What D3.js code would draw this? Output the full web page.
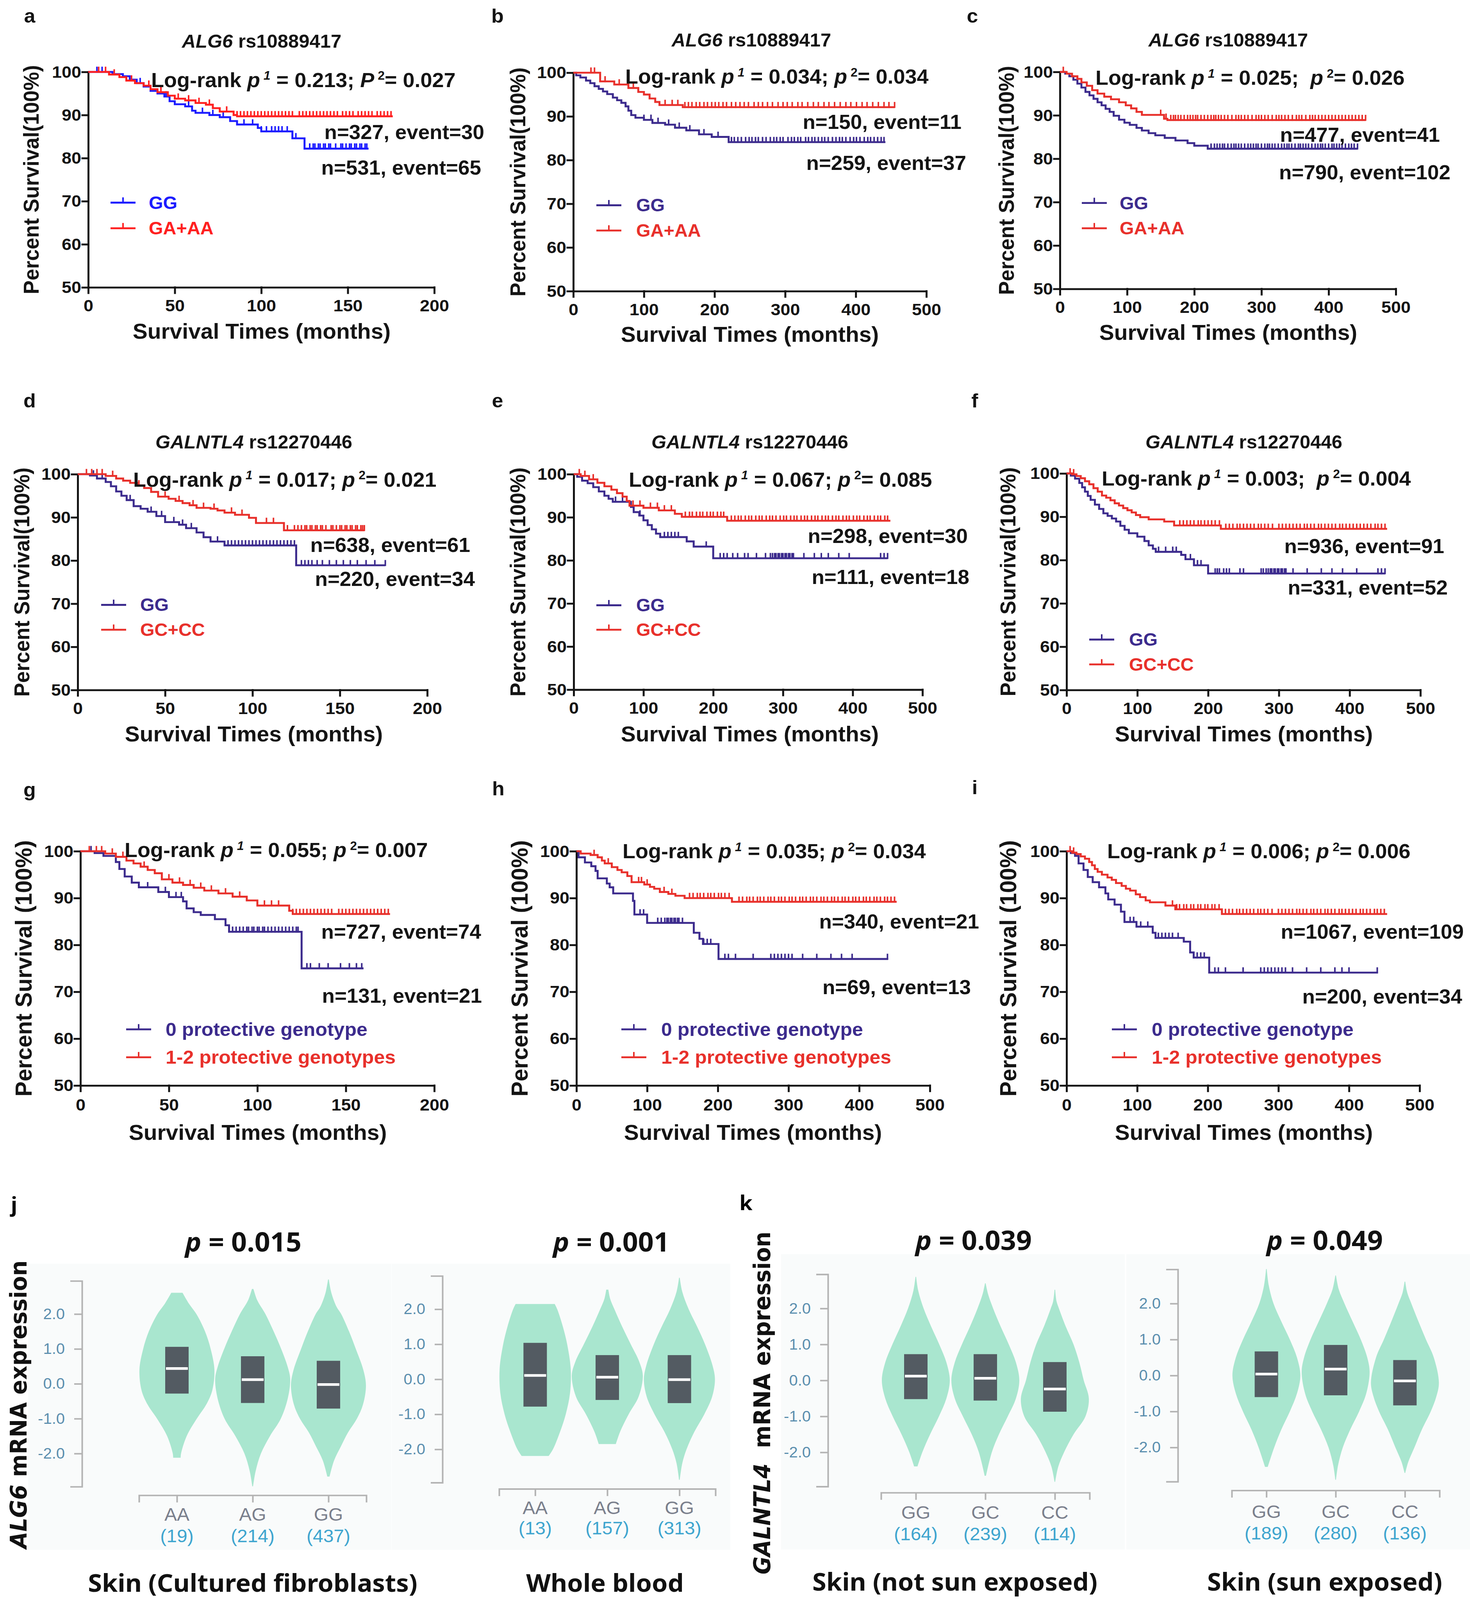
<!DOCTYPE html>
<html>
<head>
<meta charset="utf-8">
<script src="https://cdn.jsdelivr.net/npm/d3@7"></script>
<style>
  html, body { margin: 0; padding: 0; background: #fff; overflow: hidden; }
  svg { display: block; }
</style>
</head>
<body>
<svg id="fig"></svg>
<script>
// ---------------------------------------------------------------- data
const xTicks200 = [0, 50, 100, 150, 200];
const xTicks500 = [0, 100, 200, 300, 400, 500];
const yTicksKM = [50, 60, 70, 80, 90, 100];
const xMax = [200, 500, 500, 200, 500, 500, 200, 500, 500];

const geneNames = ["ALG6", "ALG6", "ALG6", "GALNTL4", "GALNTL4", "GALNTL4", "", "", ""];
const snpIds = ["rs10889417", "rs10889417", "rs10889417", "rs12270446", "rs12270446", "rs12270446", "", "", ""];
const p1Values = ["0.213", "0.034", "0.025", "0.017", "0.067", "0.003", "0.055", "0.035", "0.006"];
const p1Seps = ["; ", "; ", ";  ", "; ", "; ", ";  ", "; ", "; ", "; "];
const p2Letters = ["P", "p", "p", "p", "p", "p", "p", "p", "p"];
const p2Values = ["0.027", "0.034", "0.026", "0.021", "0.085", "0.004", "0.007", "0.034", "0.006"];
const n1Labels = ["n=327, event=30", "n=150, event=11", "n=477, event=41", "n=638, event=61", "n=298, event=30",
                  "n=936, event=91", "n=727, event=74", "n=340, event=21", "n=1067, event=109"];
const n2Labels = ["n=531, event=65", "n=259, event=37", "n=790, event=102", "n=220, event=34", "n=111, event=18",
                  "n=331, event=52", "n=131, event=21", "n=69, event=13", "n=200, event=34"];
const legend0 = ["GG", "GG", "GG", "GG", "GG", "GG", "0 protective genotype", "0 protective genotype", "0 protective genotype"];
const legend1 = ["GA+AA", "GA+AA", "GA+AA", "GC+CC", "GC+CC", "GC+CC",
                 "1-2 protective genotypes", "1-2 protective genotypes", "1-2 protective genotypes"];

// survival steps [month, percent] and censor times; "0" = GG / 0 protective, "1" = other group
const a0 = [[0,100],[14,99.5],[20,99],[24,98.2],[28,97.4],[32,96.6],[36,95.6],[40,95],[44,94.3],[47,93.2],[50,92.5],[56,92],[60,91],[62,90.5],[70,90],[76,89.5],[82,88.6],[86,87.8],[98,87],[100,86.2],[118,84.6],[125,82.2],[162,82.2]];
const a0c = [5,8,30,45,58,66,72,78,90,95,100,103,106,108,110,112,115,118,120,128,130,131,133,134,136,137,139,140,143,146,147,149,151,152,154,155,157,158,160,161];
const a1 = [[0,100],[12,99.4],[18,98.8],[22,98],[27,97.4],[32,96.8],[36,96],[40,95.3],[46,94.5],[50,93.8],[56,93.4],[62,92.8],[68,92.4],[72,91.6],[76,90.8],[84,90],[86,89.7],[176,89.7]];
const a1c = [6,10,15,25,35,42,52,58,64,70,80,86,88,90,92,94,96,98,100,102,104,106,108,110,112,114,116,118,122,124,126,128,130,132,134,136,138,140,142,144,147,149,151,153,156,158,160,162,164,167,169,171,173,175];

const b0 = [[0,100],[4,99.4],[10,98.9],[18,98.2],[24,97.6],[30,96.9],[36,96.3],[42,95.7],[48,95.1],[56,94.3],[62,93.7],[68,93.1],[74,92.3],[78,91.3],[82,90.3],[88,89.7],[100,89.2],[112,88.5],[130,88.1],[144,87.4],[160,86.8],[178,85.9],[196,85.3],[220,84.1],[442,84.1]];
const b0c = [100,110,120,135,150,165,185,205,224,228,233,238,244,249,253,258,262,268,273,279,284,288,293,297,304,309,313,318,322,329,333,338,342,347,352,356,361,367,372,377,381,386,392,397,401,406,412,417,421,426,431,436,440];
const b1 = [[0,100],[38,98],[58,97.3],[78,96.5],[92,95.6],[100,95],[108,94.1],[116,93.3],[122,92.6],[155,92.1],[455,92.1]];
const b1c = [25,30,45,65,85,130,140,148,158,163,168,174,179,185,190,196,201,206,212,217,224,230,236,242,248,256,262,268,275,282,290,297,303,310,318,324,332,340,347,355,362,370,378,386,393,401,409,416,424,432,440,447,455];

const c0 = [[0,100],[8,99.6],[14,99],[20,98.2],[26,97.3],[32,96.4],[38,95.4],[44,94.6],[50,93.8],[56,93],[62,92.3],[68,91.5],[74,90.8],[80,89.9],[88,89],[96,88.3],[104,87.8],[114,87.1],[122,86.5],[132,85.9],[142,85.4],[156,84.8],[172,84.2],[190,83.6],[200,83],[220,82.3],[443,82.3]];
const c0c = [225,230,234,238,242,245,250,255,259,262,266,270,275,280,284,288,292,295,300,305,309,312,316,320,325,330,334,338,341,345,350,355,358,362,366,370,375,380,384,388,391,395,400,405,408,412,416,420,425,430,434,438,443];
const c1 = [[0,100],[10,99.6],[18,99],[26,98.4],[32,97.6],[40,96.8],[48,95.8],[56,95],[66,94.3],[76,93.7],[88,93],[98,92.3],[106,91.6],[114,90.8],[122,90.1],[155,89.2],[160,88.9],[455,88.9]];
const c1c = [5,150,158,165,169,172,176,180,185,190,194,198,202,205,210,215,220,225,229,232,236,240,245,250,256,262,266,270,275,280,286,292,296,300,305,310,316,322,326,330,335,340,346,352,356,360,366,372,376,380,385,390,395,400,405,410,415,420,425,430,435,440,445,450,455];

const d0 = [[0,100],[7,99.7],[11,99],[16,98.2],[19,97.2],[22,96],[25,95],[28,94],[32,92.6],[36,92],[40,91.3],[45,90.3],[50,88.9],[58,88.3],[62,87.5],[68,86.5],[72,85.4],[76,84.4],[84,83.5],[125,78.9],[176,78.9]];
const d0c = [9,14,30,42,48,55,60,65,80,86,88,90,92,94,96,98,100,102,104,106,108,110,112,114,116,118,120,122,124,128,130,132,134,137,140,144,148,152,156,160,165,170,176];
const d1 = [[0,100],[16,99.6],[22,99],[26,98.5],[30,98],[34,97.4],[38,96.8],[42,95.9],[46,94.8],[52,94.3],[56,93.8],[60,93.3],[64,92.8],[68,92.2],[76,92],[80,91.6],[84,91.1],[90,90.6],[98,89.9],[102,88.7],[118,87],[164,87]];
const d1c = [5,8,11,14,20,35,50,58,66,72,78,88,94,108,112,120,124,126,128,130,131,133,134,136,137,139,140,142,145,146,148,150,151,153,154,156,157,159,160,162,163,164];

const e0 = [[0,100],[5,99.4],[12,98.5],[20,97.9],[28,97],[36,96],[44,95],[50,94.3],[56,93.6],[82,92.4],[86,91.2],[94,90.4],[100,89.3],[106,88.2],[112,87.2],[118,86.2],[124,85.4],[162,84.4],[172,83.2],[200,80.5],[450,80.5]];
const e0c = [60,70,95,130,135,140,145,150,190,210,215,220,228,235,245,250,262,275,282,285,288,290,293,295,298,300,303,305,308,310,313,315,330,345,355,365,380,395,440,445,450];
const e1 = [[0,100],[10,99.6],[22,98.8],[34,98],[44,97.2],[54,96.4],[62,95.6],[70,94.8],[76,93.8],[80,92.7],[100,92.2],[122,91.6],[145,90.8],[155,90.1],[220,89.2],[454,89.2]];
const e1c = [8,16,28,85,95,110,120,130,140,160,166,170,176,181,185,191,196,200,206,211,215,226,231,236,240,246,251,255,261,266,270,276,281,285,290,296,301,305,311,316,320,326,331,335,341,346,350,356,361,365,371,376,380,386,391,395,401,406,410,416,421,425,431,436,440,446,450];

const f0 = [[0,100],[6,99.5],[12,98.8],[18,97.8],[22,96.8],[26,95.8],[30,94.8],[34,93.9],[40,92.8],[46,91.8],[52,90.8],[58,90.2],[64,89.6],[70,88.9],[76,87.9],[82,87],[88,86.2],[100,85.4],[110,84.4],[116,83.4],[122,82.6],[126,81.9],[162,81.2],[168,80.2],[180,78.8],[200,76.9],[450,76.9]];
const f0c = [130,140,150,155,175,185,190,210,213,216,222,226,230,245,250,275,278,282,285,288,290,293,295,298,300,303,305,308,310,320,340,360,375,390,410,440,445,450];
const f1 = [[0,100],[8,99.8],[14,99.4],[20,98.9],[26,98.2],[32,97.5],[38,96.6],[44,95.8],[50,94.9],[56,94.4],[62,93.8],[68,93.1],[74,92.6],[80,92],[86,91.5],[92,91],[98,90.4],[104,89.9],[116,89.4],[138,88.9],[152,88],[218,87.2],[453,87.2]];
const f1c = [5,10,160,165,170,175,180,186,190,195,200,205,210,216,225,230,235,241,245,250,255,260,265,271,275,280,285,291,300,305,310,315,320,325,330,336,340,345,350,356,360,365,370,375,380,386,390,395,400,405,410,415,420,425,430,436,440,445,450];

const g0 = [[0,100],[8,99.6],[13,99],[20,97.7],[22,96.2],[25,94.6],[29,93.3],[33,92.3],[44,91.3],[50,90.2],[58,89.3],[60,87.8],[64,87],[68,86.4],[76,85.5],[82,84.2],[84,82.8],[125,75],[160,75]];
const g0c = [6,38,48,54,57,86,88,90,92,94,95,97,98,100,101,103,104,106,108,110,112,114,116,118,120,122,123,128,130,135,140,147,152,156,159];
const g1 = [[0,100],[14,99.5],[20,98.8],[26,98],[30,97.4],[34,96.7],[38,96],[42,95.3],[46,94],[52,93.3],[58,92.8],[64,92.2],[70,91.6],[78,91],[86,90.3],[94,89.5],[100,88.4],[118,87.3],[120,86.6],[175,86.6]];
const g1c = [5,9,12,18,24,36,50,56,62,68,74,82,90,104,108,112,120,122,124,126,128,130,132,134,136,138,140,142,146,148,150,152,154,156,158,160,162,164,166,168,170,172,174];

const h0 = [[0,100],[3,98.7],[12,97.6],[21,96.8],[27,95.8],[30,94.2],[43,93.1],[47,92.3],[52,91],[80,89.4],[82,86.5],[100,84.7],[166,82.6],[174,81.3],[179,80.2],[201,77],[441,77]];
const h0c = [90,95,115,120,125,128,130,133,135,138,140,143,145,150,180,185,190,210,215,225,250,275,280,285,290,295,300,305,320,340,360,375,390,440];
const h1 = [[0,100],[6,99.5],[20,99.2],[30,98.7],[36,98],[40,97.4],[50,96.6],[58,96],[64,95.5],[72,94.7],[78,93.4],[96,92.9],[104,92.4],[110,92],[118,91.3],[130,90.9],[140,90.5],[153,90],[220,89.2],[453,89.2]];
const h1c = [25,45,88,92,100,124,135,160,165,171,175,180,186,190,195,201,205,210,216,230,235,241,245,250,256,260,265,271,275,280,286,290,295,301,305,310,316,320,325,331,335,340,346,350,355,361,365,370,376,380,385,391,395,400,406,410,415,421,425,430,436,440,445,450];

const i0 = [[0,100],[6,99.6],[12,99],[17,97.4],[24,96],[30,94.5],[37,93.4],[46,92.3],[55,91],[59,89.7],[68,88.6],[77,87.1],[82,84.9],[99,83.9],[122,82.6],[126,81.5],[166,80.7],[175,78.4],[180,77.3],[202,74.1],[441,74.1]];
const i0c = [90,95,105,115,130,135,140,145,150,158,185,190,195,210,215,225,250,275,280,285,290,295,300,305,310,320,340,360,380,390,400,440];
const i1 = [[0,100],[8,99.7],[14,99.4],[20,98.9],[26,98.4],[32,97.7],[36,97],[40,96.2],[44,95.6],[50,95],[58,94.4],[64,93.9],[70,93.2],[78,92.6],[84,92],[90,91.6],[98,90.8],[104,90.2],[112,89.5],[118,89.1],[140,88.4],[154,87.6],[220,86.6],[454,86.6]];
const i1c = [5,10,150,156,160,166,170,176,180,186,190,196,200,206,210,216,225,230,235,241,245,250,255,260,265,271,275,280,285,291,300,305,310,315,320,326,330,335,340,346,350,355,360,366,370,375,380,386,390,395,400,405,410,416,420,425,430,436,440,445,450];

// violin plots (eQTL)
const vTicks = [-2, -1, 0, 1, 2];
const vTickLabels = ["-2.0", "-1.0", "0.0", "1.0", "2.0"];
const fibroCats = ["AA", "AG", "GG"];
const fibroCounts = ["(19)", "(214)", "(437)"];
const bloodCats = ["AA", "AG", "GG"];
const bloodCounts = ["(13)", "(157)", "(313)"];
const notSunCats = ["GG", "GC", "CC"];
const notSunCounts = ["(164)", "(239)", "(114)"];
const sunCats = ["GG", "GC", "CC"];
const sunCounts = ["(189)", "(280)", "(136)"];
const violinP = ["0.015", "0.001", "0.039", "0.049"];
const tissues = ["Skin (Cultured fibroblasts)", "Whole blood", "Skin (not sun exposed)", "Skin (sun exposed)"];

// box [q1, median, q3]
const fibroBox = [[-0.28, 0.44, 1.06], [-0.55, 0.12, 0.79], [-0.71, -0.02, 0.66]];
const bloodBox = [[-0.78, 0.11, 1.04], [-0.59, 0.06, 0.69], [-0.68, -0.01, 0.69]];
const notSunBox = [[-0.52, 0.12, 0.73], [-0.56, 0.06, 0.73], [-0.87, -0.24, 0.51]];
const sunBox = [[-0.6, 0.04, 0.67], [-0.55, 0.18, 0.85], [-0.83, -0.15, 0.43]];

// violin outlines [expression, relative half-width]
const fibroShape = [
  [[2.61,0.15],[2.3,0.32],[2.0,0.52],[1.5,0.75],[1.0,0.9],[0.4,1.0],[-0.2,0.94],[-0.6,0.78],[-1.0,0.53],[-1.5,0.26],[-2.0,0.11],[-2.12,0.1]],
  [[2.72,0.02],[2.4,0.12],[2.0,0.34],[1.5,0.56],[1.0,0.76],[0.5,0.93],[0.15,1.0],[-0.4,0.94],[-1.0,0.75],[-1.5,0.46],[-2.0,0.22],[-2.5,0.08],[-2.94,0.01]],
  [[2.99,0.01],[2.6,0.08],[2.2,0.22],[2.0,0.34],[1.5,0.55],[1.0,0.73],[0.4,0.93],[-0.05,1.0],[-0.6,0.92],[-1.0,0.76],[-1.4,0.52],[-1.8,0.33],[-2.2,0.15],[-2.66,0.03]]
];
const bloodShape = [
  [[2.15,0.55],[2.0,0.62],[1.5,0.78],[1.0,0.9],[0.3,1.0],[-0.4,0.98],[-1.0,0.86],[-1.5,0.7],[-2.0,0.5],[-2.19,0.38]],
  [[2.56,0.03],[2.3,0.08],[2.0,0.2],[1.5,0.42],[1.0,0.66],[0.5,0.9],[0.1,1.0],[-0.5,0.88],[-1.0,0.6],[-1.5,0.36],[-1.85,0.24]],
  [[2.9,0.01],[2.5,0.08],[2.0,0.26],[1.5,0.5],[1.0,0.72],[0.4,0.93],[0.0,1.0],[-0.5,0.92],[-1.0,0.7],[-1.5,0.42],[-2.0,0.2],[-2.4,0.08],[-2.87,0.01]]
];
const notSunShape = [
  [[2.88,0.01],[2.5,0.07],[2.0,0.23],[1.5,0.45],[1.0,0.69],[0.5,0.9],[0.0,1.0],[-0.5,0.9],[-1.0,0.68],[-1.5,0.42],[-2.0,0.19],[-2.39,0.05]],
  [[2.7,0.01],[2.4,0.08],[2.0,0.23],[1.5,0.45],[1.0,0.69],[0.5,0.9],[0.0,1.0],[-0.5,0.9],[-1.0,0.66],[-1.5,0.4],[-2.0,0.19],[-2.65,0.02]],
  [[2.52,0.01],[2.2,0.05],[2.0,0.12],[1.5,0.32],[1.0,0.55],[0.5,0.72],[0.0,0.85],[-0.5,1.0],[-1.0,0.9],[-1.5,0.55],[-2.0,0.27],[-2.4,0.1],[-2.82,0.01]]
];
const sunShape = [
  [[2.96,0.01],[2.5,0.07],[2.0,0.21],[1.5,0.44],[1.0,0.69],[0.5,0.9],[0.0,1.0],[-0.5,0.9],[-1.0,0.69],[-1.5,0.44],[-2.0,0.23],[-2.54,0.04]],
  [[2.78,0.01],[2.4,0.09],[2.0,0.26],[1.5,0.5],[1.0,0.74],[0.5,0.93],[0.1,1.0],[-0.5,0.9],[-1.0,0.69],[-1.5,0.43],[-2.0,0.21],[-2.5,0.07],[-2.9,0.01]],
  [[2.61,0.01],[2.3,0.07],[2.0,0.19],[1.5,0.4],[1.0,0.62],[0.5,0.85],[-0.2,1.0],[-0.6,0.92],[-1.0,0.76],[-1.5,0.5],[-2.0,0.28],[-2.4,0.1],[-2.71,0.01]]
];

// ---------------------------------------------------------------- layout
const FIG_W = 3764, FIG_H = 4248;
const kmSeries = [
  [a0, a0c, a1, a1c], [b0, b0c, b1, b1c], [c0, c0c, c1, c1c],
  [d0, d0c, d1, d1c], [e0, e0c, e1, e1c], [f0, f0c, f1, f1c],
  [g0, g0c, g1, g1c], [h0, h0c, h1, h1c], [i0, i0c, i1, i1c]
];
const kmLayout = [
  {id: "a", lx: 76, ly: 42, x0: 226, x1: 1112, yTop: 191, yBot: 763, tx: 670, ty: 109, lrx: 387, lry: 212, n1x: 1240, n1y: 351, n2x: 1232, n2y: 445, lgx: 283, lg0: 538, lg1: 606, lgt: 381, xlx: 670, xly: 879, ylx: 80, pad: 19, ylfs: 55, lgfs: 47},
  {id: "b", lx: 1274, ly: 42, x0: 1468, x1: 2372, yTop: 193, yBot: 773, tx: 1924, ty: 106, lrx: 1601, lry: 203, n1x: 2462, n1y: 324, n2x: 2474, n2y: 433, lgx: 1527, lg0: 545, lg1: 612, lgt: 1629, xlx: 1920, xly: 888, ylx: 1326, pad: 19, ylfs: 55, lgfs: 47},
  {id: "c", lx: 2490, ly: 42, x0: 2714, x1: 3574, yTop: 191, yBot: 767, tx: 3145, ty: 106, lrx: 2805, lry: 206, n1x: 3687, n1y: 358, n2x: 3714, n2y: 458, lgx: 2770, lg0: 539, lg1: 606, lgt: 2867, xlx: 3145, xly: 882, ylx: 2577, pad: 19, ylfs: 55, lgfs: 47},
  {id: "d", lx: 76, ly: 1064, x0: 199, x1: 1094, yTop: 1259, yBot: 1832, tx: 650, ty: 1173, lrx: 341, lry: 1273, n1x: 1204, n1y: 1447, n2x: 1216, n2y: 1537, lgx: 259, lg0: 1606, lg1: 1672, lgt: 359, xlx: 650, xly: 1948, ylx: 56, pad: 19, ylfs: 55, lgfs: 47},
  {id: "e", lx: 1274, ly: 1064, x0: 1469, x1: 2362, yTop: 1259, yBot: 1831, tx: 1920, ty: 1173, lrx: 1610, lry: 1273, n1x: 2478, n1y: 1423, n2x: 2482, n2y: 1532, lgx: 1527, lg0: 1607, lg1: 1672, lgt: 1629, xlx: 1920, xly: 1948, ylx: 1326, pad: 19, ylfs: 55, lgfs: 47},
  {id: "f", lx: 2496, ly: 1064, x0: 2731, x1: 3637, yTop: 1257, yBot: 1832, tx: 3185, ty: 1173, lrx: 2821, lry: 1270, n1x: 3698, n1y: 1450, n2x: 3707, n2y: 1560, lgx: 2789, lg0: 1698, lg1: 1764, lgt: 2891, xlx: 3185, xly: 1948, ylx: 2581, pad: 19, ylfs: 55, lgfs: 47},
  {id: "g", lx: 76, ly: 2096, x0: 206, x1: 1112, yTop: 2260, yBot: 2882, tx: 0, ty: 0, lrx: 319, lry: 2257, n1x: 1232, n1y: 2474, n2x: 1234, n2y: 2644, lgx: 323, lg0: 2733, lg1: 2807, lgt: 424, xlx: 660, xly: 3006, ylx: 60, pad: 22, ylfs: 60, lgfs: 50},
  {id: "h", lx: 1276, ly: 2093, x0: 1476, x1: 2381, yTop: 2260, yBot: 2882, tx: 0, ty: 0, lrx: 1594, lry: 2260, n1x: 2507, n1y: 2447, n2x: 2486, n2y: 2621, lgx: 1591, lg0: 2733, lg1: 2807, lgt: 1693, xlx: 1928, xly: 3006, ylx: 1330, pad: 22, ylfs: 60, lgfs: 50},
  {id: "i", lx: 2496, ly: 2090, x0: 2731, x1: 3635, yTop: 2260, yBot: 2882, tx: 0, ty: 0, lrx: 2835, lry: 2260, n1x: 3748, n1y: 2474, n2x: 3744, n2y: 2646, lgx: 2847, lg0: 2733, lg1: 2807, lgt: 2949, xlx: 3185, xly: 3006, ylx: 2581, pad: 22, ylfs: 60, lgfs: 50}
];
const kmColors = [
  ["#1c1cff", "#ff2020"], ["#3c2b8d", "#e8302b"], ["#3c2b8d", "#e8302b"],
  ["#3c2b8d", "#e8302b"], ["#3c2b8d", "#e8302b"], ["#3c2b8d", "#e8302b"],
  ["#3c2b8d", "#e8302b"], ["#3c2b8d", "#e8302b"], ["#3c2b8d", "#e8302b"]
];
const KMFONT = '"Liberation Sans", Arial, sans-serif';
const INK = "#141414";
const FS = {tick: 45, lr: 54, sup: 32, n: 53, title: 49, xlab: 57, letter: 52};

// the whole figure is laid out in 3764 x 4248 units and fitted to the visible window
const viewW = window.innerWidth || FIG_W;
const viewH = window.innerHeight || FIG_H;
const svg = d3.select("#fig")
  .attr("width", viewW).attr("height", viewH)
  .attr("viewBox", `0 0 ${FIG_W} ${FIG_H}`)
  .attr("preserveAspectRatio", "none");

// baseline for text whose visual centre should sit at cy
const base = (cy, fs) => cy + 0.35 * fs;

// survival at time t from a step list
const survAt = (steps, t) => {
  let s = steps[0][1];
  for (const st of steps) { if (st[0] <= t) s = st[1]; }
  return s;
};

kmLayout.forEach((L, i) => {
  const g = svg.append("g").attr("font-family", KMFONT).attr("font-weight", "bold").attr("fill", INK);
  const x = d3.scaleLinear().domain([0, xMax[i]]).range([L.x0, L.x1]);
  const y = d3.scaleLinear().domain([50, 100]).range([L.yBot, L.yTop]);

  // panel letter
  g.append("text").attr("x", L.lx).attr("y", base(L.ly, FS.letter)).attr("font-size", FS.letter)
    .attr("text-anchor", "middle").text(L.id);

  // title
  if (geneNames[i]) {
    const t = g.append("text").attr("x", L.tx).attr("y", base(L.ty, FS.title)).attr("font-size", FS.title)
      .attr("text-anchor", "middle");
    t.append("tspan").attr("font-style", "italic").text(geneNames[i]);
    t.append("tspan").text(" " + snpIds[i]);
  }

  // axes
  const yAx = g.append("g").attr("transform", `translate(${L.x0},0)`)
    .call(d3.axisLeft(y).tickValues(yTicksKM).tickSize(15).tickSizeOuter(0).tickPadding(3));
  const xAx = g.append("g").attr("transform", `translate(0,${L.yBot})`)
    .call(d3.axisBottom(x).tickValues(xMax[i] === 200 ? xTicks200 : xTicks500)
      .tickSize(15).tickSizeOuter(0).tickPadding(L.pad - 2));
  [yAx, xAx].forEach(ax => {
    ax.attr("font-family", KMFONT).attr("font-size", FS.tick).attr("font-weight", "bold");
    ax.selectAll("path, line").attr("stroke", INK).attr("stroke-width", 5).attr("stroke-linecap", "square");
    ax.selectAll("text").attr("fill", INK);
  });

  // curves with censor marks
  const [s0, c0s, s1, c1s] = kmSeries[i];
  const line = d3.line().x(d => x(d[0])).y(d => y(d[1])).curve(d3.curveStepAfter);
  [[s0, c0s, kmColors[i][0]], [s1, c1s, kmColors[i][1]]].forEach(([steps, cens, col]) => {
    g.append("path").datum(steps).attr("d", line).attr("fill", "none")
      .attr("stroke", col).attr("stroke-width", 5);
    g.selectAll(null).data(cens).enter().append("line")
      .attr("x1", t => x(t)).attr("x2", t => x(t))
      .attr("y1", t => y(survAt(steps, t)) + 2).attr("y2", t => y(survAt(steps, t)) - 14)
      .attr("stroke", col).attr("stroke-width", 4);
  });

  // log-rank text
  const lr = g.append("text").attr("x", L.lrx).attr("y", base(L.lry, FS.lr)).attr("font-size", FS.lr)
    .style("white-space", "pre");
  lr.append("tspan").text("Log-rank ");
  lr.append("tspan").attr("font-style", "italic").text("p");
  lr.append("tspan").attr("font-size", FS.sup).attr("dy", -19).attr("font-style", "italic").text(" 1");
  lr.append("tspan").attr("dy", 19).text(" = " + p1Values[i] + p1Seps[i]);
  lr.append("tspan").attr("font-style", "italic").text(p2Letters[i]);
  lr.append("tspan").attr("font-size", FS.sup).attr("dy", -19).text(" 2");
  lr.append("tspan").attr("dy", 19).text("= " + p2Values[i]);

  // n / events
  g.append("text").attr("x", L.n1x).attr("y", base(L.n1y, FS.n)).attr("font-size", FS.n)
    .attr("text-anchor", "end").text(n1Labels[i]);
  g.append("text").attr("x", L.n2x).attr("y", base(L.n2y, FS.n)).attr("font-size", FS.n)
    .attr("text-anchor", "end").text(n2Labels[i]);

  // legend
  [[L.lg0, legend0[i], kmColors[i][0]], [L.lg1, legend1[i], kmColors[i][1]]].forEach(([ly, lab, col]) => {
    g.append("line").attr("x1", L.lgx).attr("x2", L.lgx + 64).attr("y1", ly).attr("y2", ly)
      .attr("stroke", col).attr("stroke-width", 5);
    g.append("line").attr("x1", L.lgx + 32).attr("x2", L.lgx + 32).attr("y1", ly).attr("y2", ly - 14)
      .attr("stroke", col).attr("stroke-width", 4);
    g.append("text").attr("x", L.lgt).attr("y", base(ly, L.lgfs)).attr("font-size", L.lgfs)
      .attr("fill", col).text(lab);
  });

  // axis titles
  g.append("text").attr("x", L.xlx).attr("y", base(L.xly, FS.xlab)).attr("font-size", FS.xlab)
    .attr("text-anchor", "middle").text("Survival Times (months)");
  const ylab = i >= 6 ? "Percent Survival (100%)" : "Percent Survival(100%)";
  g.append("text").attr("transform", `translate(${L.ylx + 0.35 * L.ylfs},${(L.yTop + L.yBot) / 2}) rotate(-90)`)
    .attr("font-size", L.ylfs).attr("text-anchor", "middle").text(ylab);
});

// ---------------------------------------------------------------- violins
const vData = [
  [fibroCats, fibroCounts, fibroBox, fibroShape],
  [bloodCats, bloodCounts, bloodBox, bloodShape],
  [notSunCats, notSunCounts, notSunBox, notSunShape],
  [sunCats, sunCounts, sunBox, sunShape]
];
const vLayout = [
  {bx0: 356, bx1: 938, ax: 210, y0: 3674, unit: 92.6, xay: 3970, cy: 4021, ny: 4078, tx: 623, ty: 3298, bt: 647, bty: 4203, half: 96, bg: [72, 3355, 930, 760]},
  {bx0: 1278, bx1: 1832, ax: 1133, y0: 3662, unit: 93, xay: 3953, cy: 4003, ny: 4057, tx: 1565, ty: 3298, bt: 1549, bty: 4203, half: 91, bg: [1003, 3355, 867, 760]},
  {bx0: 2256, bx1: 2790, ax: 2120, y0: 3665, unit: 95.5, xay: 3963, cy: 4016, ny: 4073, tx: 2493, ty: 3294, bt: 2445, bty: 4200, half: 87, bg: [2000, 3330, 880, 784]},
  {bx0: 3154, bx1: 3686, ax: 3016, y0: 3652, unit: 95.5, xay: 3957, cy: 4013, ny: 4070, tx: 3392, ty: 3294, bt: 3392, bty: 4200, half: 87, bg: [2884, 3330, 880, 784]}
];
const VFONT = '"Liberation Sans", Arial, sans-serif';
const TFONT = '"Noto Sans", "Open Sans", sans-serif';

vLayout.forEach((V, k) => {
  const [cats, counts, boxes, shapes] = vData[k];
  const g = svg.append("g");
  g.append("rect").attr("x", V.bg[0]).attr("y", V.bg[1]).attr("width", V.bg[2]).attr("height", V.bg[3])
    .attr("fill", "#f9fbfb");

  const ext = 2.95;
  const y = d3.scaleLinear().domain([-ext, ext]).range([V.y0 + ext * V.unit, V.y0 - ext * V.unit]);
  const x = d3.scalePoint().domain(cats).range([V.bx0, V.bx1]).padding(0.5);
  const w = d3.scaleLinear().domain([0, 1]).range([0, V.half]);

  // violins
  shapes.forEach((shape, j) => {
    const cx = x(cats[j]);
    const area = d3.area().curve(d3.curveCatmullRom)
      .y(d => y(d[0])).x0(d => cx - w(d[1])).x1(d => cx + w(d[1]));
    g.append("path").datum(shape).attr("d", area).attr("fill", "#a9e6cf");
    const [q1, med, q3] = boxes[j];
    g.append("rect").attr("x", cx - 30).attr("width", 60)
      .attr("y", y(q3)).attr("height", y(q1) - y(q3)).attr("fill", "#535b62");
    g.append("line").attr("x1", cx - 28).attr("x2", cx + 28).attr("y1", y(med)).attr("y2", y(med))
      .attr("stroke", "#ffffff").attr("stroke-width", 7);
  });

  // y bracket axis
  const yAx = g.append("g").attr("transform", `translate(${V.ax},0)`)
    .call(d3.axisLeft(y).tickValues(vTicks).tickFormat((d, i) => vTickLabels[i])
      .tickSize(20).tickSizeOuter(30).tickPadding(24));
  yAx.attr("font-family", VFONT).attr("font-size", 40);
  yAx.selectAll("path, line").attr("stroke", "#b3b3b3").attr("stroke-width", 4);
  yAx.selectAll("text").attr("fill", "#5a8eae");

  // x bracket axis
  const xAx = g.append("g").attr("transform", `translate(0,${V.xay})`)
    .call(d3.axisBottom(x).tickSize(19).tickSizeOuter(19).tickFormat(""));
  xAx.selectAll("path, line").attr("stroke", "#b3b3b3").attr("stroke-width", 4);

  cats.forEach((c, j) => {
    g.append("text").attr("x", x(c)).attr("y", base(V.cy, 48)).attr("text-anchor", "middle")
      .attr("font-family", VFONT).attr("font-size", 48).attr("fill", "#7a7f8c").text(c);
    g.append("text").attr("x", x(c)).attr("y", base(V.ny, 48)).attr("text-anchor", "middle")
      .attr("font-family", VFONT).attr("font-size", 48).attr("fill", "#3ea5cf").text(counts[j]);
  });

  // p-value title
  const t = g.append("text").attr("x", V.tx).attr("y", base(V.ty, 70)).attr("text-anchor", "middle")
    .attr("font-family", TFONT).attr("font-weight", "bold").attr("font-size", 70).attr("fill", "#111");
  t.append("tspan").attr("font-style", "italic").text("p");
  t.append("tspan").text(" = " + violinP[k]);

  // tissue name
  g.append("text").attr("x", V.bt).attr("y", base(V.bty, 65)).attr("text-anchor", "middle")
    .attr("font-family", TFONT).attr("font-weight", "bold").attr("font-size", 65).attr("fill", "#111")
    .text(tissues[k]);
});

// panel letters and gene labels for j, k
svg.append("text").attr("x", 36).attr("y", base(3198, 54)).attr("text-anchor", "middle")
  .attr("font-family", TFONT).attr("font-weight", "bold").attr("font-size", 54).text("j");
svg.append("text").attr("x", 1910).attr("y", base(3194, 54)).attr("text-anchor", "middle")
  .attr("font-family", TFONT).attr("font-weight", "bold").attr("font-size", 54).text("k");

const vLabels = [
  {x: 48, y: 3729, gene: "ALG6", rest: " mRNA expression"},
  {x: 1952, y: 3725, gene: "GALNTL4", rest: "  mRNA expression"}
];
vLabels.forEach(v => {
  const t = svg.append("text").attr("transform", `translate(${v.x + 0.35 * 58},${v.y}) rotate(-90)`)
    .attr("text-anchor", "middle").attr("font-family", '"DejaVu Sans", Verdana, sans-serif')
    .attr("font-weight", "bold").attr("font-size", 58).attr("fill", "#111").style("white-space", "pre");
  t.append("tspan").attr("font-style", "italic").text(v.gene);
  t.append("tspan").text(v.rest);
});
</script>
</body>
</html>
